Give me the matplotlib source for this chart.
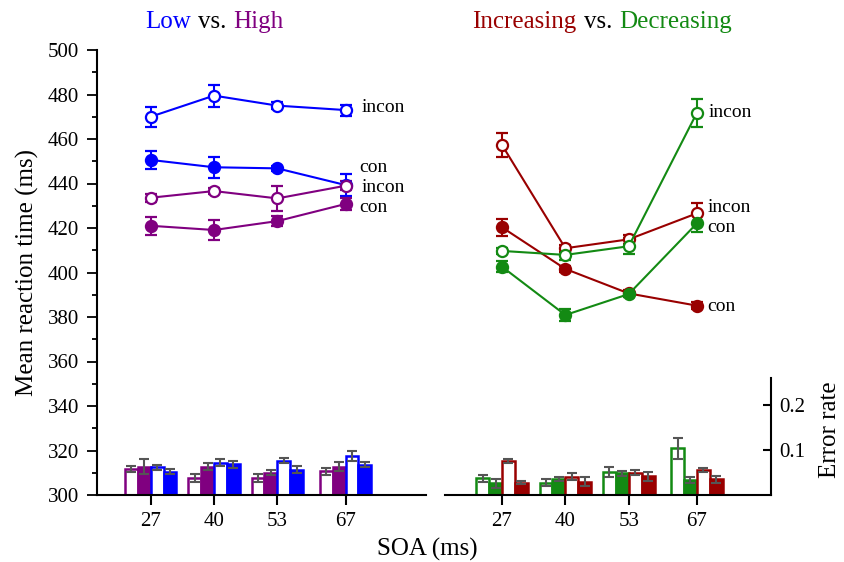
import numpy as np
import matplotlib
matplotlib.use("Agg")
import matplotlib.pyplot as plt
from matplotlib.offsetbox import TextArea, HPacker, AnchoredOffsetbox
from matplotlib.ticker import MultipleLocator

plt.rcParams['font.family'] = ['Liberation Serif', 'DejaVu Serif']

soa = [27, 40, 53, 67]

# mean reaction times (ms) and error bars
low_incon = [470.0, 479.5, 475.0, 473.0]
low_incon_err = [4.6, 4.9, 1.5, 2.5]
low_con = [450.6, 447.3, 446.8, 439.3]
low_con_err = [3.9, 4.8, 1.0, 5.0]
high_incon = [433.6, 436.6, 433.3, 439.0]
high_incon_err = [1.8, 1.5, 5.7, 2.0]
high_con = [421.0, 419.1, 423.1, 430.8]
high_con_err = [4.0, 4.3, 2.4, 2.6]

inc_incon = [457.3, 410.9, 414.9, 426.6]
inc_incon_err = [5.2, 1.5, 2.0, 4.5]
inc_con = [420.3, 401.6, 390.6, 385.1]
inc_con_err = [3.8, 1.5, 1.5, 1.5]
dec_incon = [409.7, 407.9, 411.8, 471.8]
dec_incon_err = [1.5, 2.5, 3.7, 6.3]
dec_con = [402.6, 380.9, 390.3, 422.1]
dec_con_err = [2.5, 2.5, 1.5, 4.0]

# error rates
er_high_incon = [0.058, 0.0385, 0.0385, 0.053]
er_high_incon_err = [0.007, 0.0085, 0.0085, 0.0075]
er_high_con = [0.063, 0.063, 0.050, 0.063]
er_high_con_err = [0.017, 0.008, 0.005, 0.010]
er_low_incon = [0.0615, 0.072, 0.076, 0.087]
er_low_incon_err = [0.005, 0.0075, 0.0055, 0.011]
er_low_con = [0.052, 0.068, 0.056, 0.067]
er_low_con_err = [0.005, 0.0075, 0.0075, 0.0055]

er_dec_incon = [0.037, 0.027, 0.052, 0.104]
er_dec_incon_err = [0.008, 0.008, 0.011, 0.023]
er_dec_con = [0.026, 0.035, 0.048, 0.033]
er_dec_con_err = [0.010, 0.004, 0.006, 0.0074]
er_inc_incon = [0.0756, 0.041, 0.050, 0.0556]
er_inc_incon_err = [0.004, 0.007, 0.006, 0.005]
er_inc_con = [0.027, 0.030, 0.042, 0.035]
er_inc_con_err = [0.0035, 0.011, 0.010, 0.0074]

BLUE = '#0000ff'
PURPLE = '#800080'
RED = '#990000'
GREEN = '#138a13'
ERRGRAY = '#555555'

fig = plt.figure(figsize=(8.45, 5.62), dpi=100)
H = 562.0
W = 845.0
axL = fig.add_axes([97 / W, 1 - 495 / H, 329 / W, 445 / H])
axR = fig.add_axes([445 / W, 1 - 495 / H, 326 / W, 445 / H])
axL.set_xlim(16, 83.5)
axR.set_xlim(15.3, 82.2)


def rt_line(ax, y, err, color, filled):
    ax.errorbar(soa, y, yerr=err, color=color, lw=1.5, marker='o', ms=8,
                mfc=color if filled else 'white', mec=color, mew=1.6,
                capsize=4.5, capthick=1.5, elinewidth=1.5, zorder=3)


def er_bars(ax, groups):
    w = 2.65
    offs = [-1.5, -0.5, 0.5, 1.5]
    for off, (vals, errs, color, filled) in zip(offs, groups):
        x = np.array(soa) + off * w
        ax.bar(x, vals, width=w, color=color if filled else 'white',
               edgecolor=color, linewidth=1.8)
        ax.errorbar(x, vals, yerr=errs, fmt='none', ecolor=ERRGRAY,
                    elinewidth=1.5, capsize=3.5, capthick=1.5)


# error-rate bars on twin axes
ymax_er = 445 / 450.0
bL = axL.twinx()
bR = axR.twinx()

for ax in (axL, axR):
    ax.set_ylim(300, 500)
    ax.set_xticks(soa)
    ax.set_xticklabels([str(s) for s in soa])
    ax.tick_params(axis='x', direction='out', length=7, width=1.5,
                   labelsize=15, pad=5)
    ax.spines['top'].set_visible(False)
    ax.spines['right'].set_visible(False)
    ax.spines['bottom'].set_linewidth(1.5)
    ax.patch.set_alpha(0)

axL.spines['left'].set_linewidth(1.5)
axL.yaxis.set_major_locator(MultipleLocator(20))
axL.yaxis.set_minor_locator(MultipleLocator(10))
axL.tick_params(axis='y', which='major', direction='out', length=7,
                width=1.3, labelsize=15, pad=6)
axL.tick_params(axis='y', which='minor', direction='out', length=3.5,
                width=1.3)
axL.tick_params(axis='y', which='both', right=False)
axL.set_ylabel('Mean reaction time (ms)', fontsize=18, labelpad=6)

axR.spines['left'].set_visible(False)
axR.tick_params(axis='y', which='both', left=False, right=False,
                labelleft=False, labelright=False)

for b in (bL, bR):
    b.set_ylim(0, ymax_er)
    b.spines['top'].set_visible(False)
    b.spines['left'].set_visible(False)
    b.spines['bottom'].set_visible(False)
    b.set_zorder(0)
bL.spines['right'].set_visible(False)
bL.tick_params(axis='y', which='both', left=False, right=False,
               labelleft=False, labelright=False)
bR.spines['right'].set_bounds(0, 0.26)
bR.spines['right'].set_linewidth(1.5)
bR.set_yticks([0.1, 0.2])
bR.set_yticklabels(['0.1', '0.2'])
bR.tick_params(axis='y', direction='in', length=6, width=1.5,
               labelsize=15, pad=6, left=False)
axL.set_zorder(1)
axR.set_zorder(1)

er_bars(bL, [(er_high_incon, er_high_incon_err, PURPLE, False),
             (er_high_con, er_high_con_err, PURPLE, True),
             (er_low_incon, er_low_incon_err, BLUE, False),
             (er_low_con, er_low_con_err, BLUE, True)])
er_bars(bR, [(er_dec_incon, er_dec_incon_err, GREEN, False),
             (er_dec_con, er_dec_con_err, GREEN, True),
             (er_inc_incon, er_inc_incon_err, RED, False),
             (er_inc_con, er_inc_con_err, RED, True)])

rt_line(axL, low_incon, low_incon_err, BLUE, False)
rt_line(axL, low_con, low_con_err, BLUE, True)
rt_line(axL, high_incon, high_incon_err, PURPLE, False)
rt_line(axL, high_con, high_con_err, PURPLE, True)

rt_line(axR, inc_incon, inc_incon_err, RED, False)
rt_line(axR, inc_con, inc_con_err, RED, True)
rt_line(axR, dec_incon, dec_incon_err, GREEN, False)
rt_line(axR, dec_con, dec_con_err, GREEN, True)

# condition labels at the end of each line
lab_kw = dict(fontsize=14, va='center', ha='left', zorder=5)
axL.text(70.3, 474.0, 'incon', **lab_kw)
axL.text(69.9, 447.4, 'con', **lab_kw)
axL.text(70.3, 438.4, 'incon', **lab_kw)
axL.text(69.9, 429.4, 'con', **lab_kw)
axR.text(69.3, 472.1, 'incon', **lab_kw)
axR.text(69.1, 429.4, 'incon', **lab_kw)
axR.text(69.1, 420.4, 'con', **lab_kw)
axR.text(69.1, 384.9, 'con', **lab_kw)

fig.text(830 / W, 1 - 430 / H, 'Error rate', rotation=90, fontsize=18,
         ha='center', va='center')
fig.text(427 / W, 1 - 549 / H, 'SOA (ms)', fontsize=18,
         ha='center', va='center')


def colored_title(parts, x, y, size):
    boxes = [TextArea(t, textprops=dict(color=c, fontsize=size)) for t, c in parts]
    pack = HPacker(children=boxes, align='baseline', pad=0, sep=5)
    anch = AnchoredOffsetbox(loc='center', child=pack, pad=0, borderpad=0,
                             frameon=False, bbox_to_anchor=(x, y),
                             bbox_transform=fig.transFigure)
    fig.add_artist(anch)


colored_title([('Low', BLUE), ('vs.', 'black'), ('High', PURPLE)],
              214 / W, 1 - 22 / H, 18)
colored_title([('Increasing', RED), ('vs.', 'black'), ('Decreasing', GREEN)],
              602 / W, 1 - 22 / H, 18)

fig.savefig('out.png', dpi=100)
